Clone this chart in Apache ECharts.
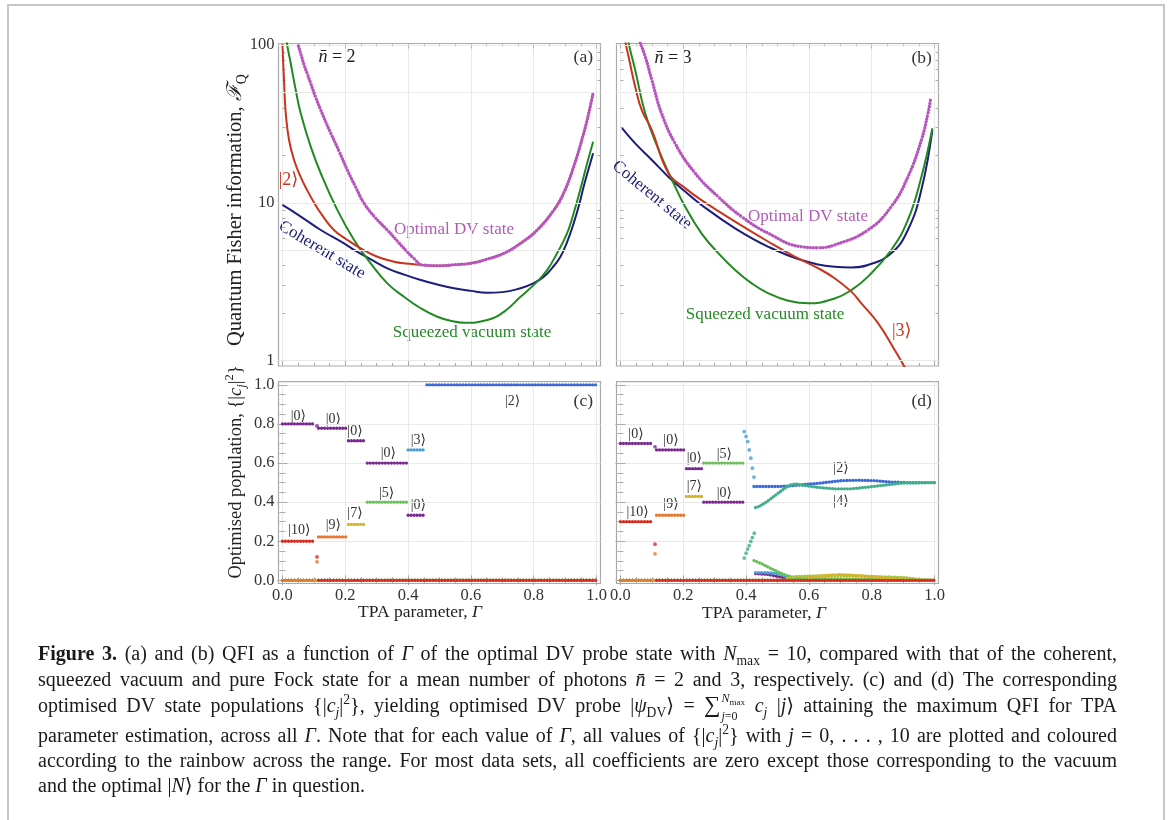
<!DOCTYPE html>
<html><head><meta charset="utf-8">
<script src="https://cdn.jsdelivr.net/npm/echarts@6/dist/echarts.min.js"></script>
<style>html,body{margin:0;padding:0;background:#fff;}#c{width:1168px;height:820px;}</style>
</head><body><div id="c"></div>
<script>
// ===================== DATA =====================
const gammaTicks = [0, 0.2, 0.4, 0.6, 0.8, 1.0];
const qfiTicks = [1, 10, 100];
const qfiMinorTicks = [2, 3, 4, 5, 6, 7, 8, 9, 20, 30, 40, 50, 60, 70, 80, 90];
const qfiGridValues = [1, 5, 10, 50, 100];
const popTicks = [0, 0.2, 0.4, 0.6, 0.8, 1.0];

// (a) nbar = 2 : [Gamma, F_Q]
const aFock2 = [[0.0,101],[0.005,60],[0.0105,37],[0.021,25],[0.037,18.7],[0.058,14.6],[0.079,12.0],[0.1,10.1],[0.122,8.6],[0.164,6.73],[0.207,5.82],[0.249,5.15],[0.302,4.56],[0.355,4.24],[0.40,4.12],[0.445,4.04],[0.5,4.0],[0.55,4.06],[0.6,4.14],[0.652,4.4],[0.705,4.79],[0.758,5.54],[0.811,6.73],[0.864,9.0],[0.895,11.5],[0.927,16.9],[0.959,27.6],[0.975,36.9],[0.989,49.7]];
const aOptimal = [[0.051,98.5],[0.06,86],[0.069,74.7],[0.08,65],[0.09,57.2],[0.105,47],[0.122,38.7],[0.138,32.5],[0.154,27.6],[0.18,21.3],[0.207,16.1],[0.233,12.6],[0.26,9.93],[0.297,8.0],[0.334,6.73],[0.365,5.75],[0.397,4.9],[0.42,4.42],[0.445,4.04],[0.5,4.0],[0.55,4.06],[0.6,4.14],[0.652,4.4],[0.705,4.79],[0.758,5.54],[0.811,6.73],[0.864,9.0],[0.895,11.5],[0.927,16.9],[0.959,27.6],[0.975,36.9],[0.989,49.7]];
const aCoherent = [[0,9.7],[0.05,8.4],[0.122,6.73],[0.196,5.54],[0.228,5.03],[0.28,4.4],[0.334,3.85],[0.39,3.5],[0.44,3.25],[0.49,3.05],[0.546,2.88],[0.6,2.77],[0.652,2.70],[0.7,2.72],[0.758,2.88],[0.8,3.1],[0.832,3.41],[0.86,3.9],[0.885,4.56],[0.907,5.7],[0.927,7.42],[0.945,9.8],[0.959,12.7],[0.975,16.5],[0.989,20.6]];
const aSqueezed = [[0.008,150],[0.0137,105],[0.0264,76.6],[0.0423,51.9],[0.0582,36.9],[0.09,22.7],[0.122,15.4],[0.175,9.0],[0.228,5.82],[0.281,4.14],[0.334,3.09],[0.387,2.54],[0.44,2.15],[0.493,1.90],[0.546,1.77],[0.577,1.74],[0.652,1.81],[0.705,2.04],[0.758,2.54],[0.811,3.17],[0.843,3.76],[0.874,4.79],[0.906,6.41],[0.927,8.59],[0.948,12.1],[0.97,17.8],[0.989,24.4]];

// (b) nbar = 3
const bFock3 = [[0.01,140],[0.015,107],[0.026,84.3],[0.047,54.4],[0.068,38.7],[0.1,28.9],[0.153,15.4],[0.206,12.4],[0.258,10.4],[0.365,7.6],[0.471,5.67],[0.555,4.56],[0.63,3.85],[0.682,3.33],[0.735,2.74],[0.767,2.31],[0.82,1.73],[0.873,1.17],[0.91,0.87],[0.93,0.7]];
const bOptimal = [[0.063,103],[0.079,84.3],[0.1,60],[0.131,36.9],[0.174,23.8],[0.238,15.4],[0.312,10.9],[0.386,8.17],[0.471,6.41],[0.576,5.27],[0.629,5.2],[0.682,5.41],[0.788,6.73],[0.862,9.46],[0.915,14.6],[0.958,25],[0.979,36.9],[0.987,44.9]];
const bCoherent = [[0.005,29.7],[0.047,23.8],[0.1,18.7],[0.153,14.6],[0.206,11.8],[0.258,9.7],[0.365,6.9],[0.471,5.27],[0.576,4.35],[0.682,3.94],[0.735,3.9],[0.788,4.04],[0.862,4.79],[0.915,6.73],[0.958,12.1],[0.993,28.9]];
const bSqueezed = [[0.015,140],[0.024,107],[0.047,69.5],[0.079,36.9],[0.122,21.6],[0.164,14.0],[0.206,9.46],[0.258,6.41],[0.312,4.79],[0.365,3.76],[0.418,3.09],[0.471,2.67],[0.534,2.40],[0.6,2.31],[0.682,2.48],[0.735,2.8],[0.788,3.41],[0.862,5.03],[0.915,7.79],[0.958,14.6],[0.993,29.7]];

// (c) populations |c_j|^2, nbar = 2 : pieces of [Gamma, value]
const cPop0 = [[[0,0.8],[0.105,0.8]],[[0.115,0.778],[0.205,0.778]],[[0.21,0.714],[0.265,0.714]],[[0.27,0.6],[0.395,0.6]],[[0.40,0.333],[0.455,0.333]],[[0.46,0],[1,0]]];
const cPop1 = [[[0,0],[1,0]]];
const cPop2 = [[[0,0],[0.455,0]],[[0.46,1],[1,1]]];
const cPop3 = [[[0,0],[0.395,0]],[[0.40,0.667],[0.455,0.667]],[[0.46,0],[1,0]]];
const cPop4 = [[[0,0],[1,0]]];
const cPop5 = [[[0,0],[0.265,0]],[[0.27,0.4],[0.395,0.4]],[[0.40,0],[1,0]]];
const cPop6 = [[[0,0],[1,0]]];
const cPop7 = [[[0,0],[0.205,0]],[[0.21,0.286],[0.265,0.286]],[[0.27,0],[1,0]]];
const cPop8 = [[[0,0],[1,0]]];
const cPop9 = [[[0,0],[0.105,0]],[[0.115,0.222],[0.205,0.222]],[[0.21,0],[1,0]]];
const cPop10 = [[[0,0.2],[0.105,0.2]],[[0.115,0],[1,0]]];
const cDots0 = [[0.11,0.79]];
const cDots9 = [[0.11,0.095]];
const cDots10 = [[0.11,0.12]];

// (d) populations, nbar = 3
const dPop0 = [[[0,0.7],[0.105,0.7]],[[0.115,0.667],[0.205,0.667]],[[0.21,0.571],[0.26,0.571]],[[0.265,0.4],[0.39,0.4]],[[0.43,0.035],[0.47,0.03],[0.5,0.02],[0.53,0.01],[0.56,0]],[[0.56,0],[1,0]]];
const dPop1 = [[[0,0],[1,0]]];
const dPop2 = [[[0,0],[0.42,0]],[[0.425,0.48],[0.45,0.48],[0.5,0.48],[0.534,0.482],[0.56,0.486],[0.598,0.492],[0.651,0.5],[0.704,0.51],[0.757,0.512],[0.81,0.51],[0.863,0.503],[0.916,0.5],[0.95,0.5],[1,0.5]]];
const dPop3 = [[[0,0],[0.39,0]],[[0.43,0.04],[0.46,0.04],[0.5,0.035],[0.53,0.02],[0.56,0.01],[0.6,0]],[[0.6,0],[1,0]]];
const dPop4 = [[[0,0],[0.39,0]],[[0.43,0.372],[0.439,0.377],[0.46,0.395],[0.481,0.42],[0.502,0.446],[0.524,0.472],[0.54,0.488],[0.556,0.493],[0.577,0.487],[0.63,0.475],[0.683,0.468],[0.736,0.468],[0.789,0.477],[0.842,0.487],[0.895,0.497],[1.0,0.5]]];
const dPop5 = [[[0,0],[0.26,0]],[[0.265,0.6],[0.39,0.6]],[[0.425,0.101],[0.45,0.085],[0.48,0.06],[0.5,0.045],[0.524,0.028],[0.55,0.015],[0.6,0.01],[0.7,0.008],[0.8,0.006],[0.9,0.003],[1,0]]];
const dPop6 = [[[0,0],[1,0]],[[0.53,0.01],[0.56,0.02],[0.6,0.022],[0.7,0.025],[0.8,0.02],[0.9,0.015],[0.95,0.005],[1,0]]];
const dPop7 = [[[0,0],[0.205,0]],[[0.21,0.429],[0.26,0.429]],[[0.265,0],[0.6,0]],[[0.6,0.015],[0.65,0.025],[0.7,0.03],[0.75,0.025],[0.8,0.02],[0.85,0.01],[0.9,0]],[[0.9,0],[1,0]]];
const dPop8 = [[[0,0],[1,0]]];
const dPop9 = [[[0,0],[0.105,0]],[[0.115,0.333],[0.205,0.333]],[[0.21,0],[1,0]]];
const dPop10 = [[[0,0.3],[0.105,0.3]],[[0.115,0],[1,0]]];
const dDots0 = [[0.11,0.683]];
const dDots3 = [[0.394,0.761],[0.40,0.736],[0.405,0.71],[0.41,0.667],[0.415,0.625],[0.42,0.574],[0.425,0.528]];
const dDots4 = [[0.394,0.114],[0.40,0.139],[0.405,0.16],[0.41,0.178],[0.415,0.199],[0.42,0.219],[0.426,0.241]];
const dDots9 = [[0.11,0.136]];
const dDots10 = [[0.11,0.185]];

// ===================== STYLE / LAYOUT =====================
const SERIF = '"Liberation Serif","DejaVu Serif",serif';
const FRAME = '#aaaaaa', GRIDC = '#e9e9e9', TXT = '#333333';
const RED = '#c9341c', NAVY = '#1d1d7e', GREEN = '#218a21', PURPLE = '#b757bd';
const JCOL = ['#7b2a90','#5a3aa6','#3d6ad6','#47a0d2','#3fae8a','#6dbf5a','#a6c23e','#d4b42c','#e59a2b','#e8772e','#d62e1f'];
const XMIN = -0.0125, XMAX = 1.0125, YMIN = 0.926, YMAX = 102.2, PMIN = -0.016, PMAX = 1.016;
const grids = [
  {left: 278.5, top: 43.5, width: 322, height: 322.5},
  {left: 616.5, top: 43.5, width: 322, height: 322.5},
  {left: 278.5, top: 381.7, width: 322, height: 201.8},
  {left: 616.5, top: 381.7, width: 322, height: 201.8}
].map(g => Object.assign({show: true, borderColor: FRAME, borderWidth: 1.2, backgroundColor: 'transparent'}, g));

const lab = (show) => ({show, fontFamily: SERIF, fontSize: 16.5, color: TXT});
function xAx(gi, pos, labels) {
  return {type: 'value', gridIndex: gi, position: pos, min: XMIN, max: XMAX,
    axisLine: {show: false},
    axisTick: {show: true, inside: true, length: 5, lineStyle: {color: FRAME}, customValues: gammaTicks},
    minorTick: {show: true, splitNumber: 4, length: 3, lineStyle: {color: FRAME}},
    splitLine: {show: pos === 'bottom', lineStyle: {color: GRIDC, width: 1}},
    axisLabel: Object.assign(lab(labels), {customValues: gammaTicks, margin: 4, interval: 0, formatter: v => v.toFixed(1)})};
}
function yLog(gi, pos, labels) {
  return {type: 'log', logBase: 10, gridIndex: gi, position: pos, min: YMIN, max: YMAX,
    axisLine: {show: false},
    axisTick: {show: true, inside: true, length: 5, lineStyle: {color: FRAME}, customValues: qfiTicks},
    splitLine: {show: false}, minorTick: {show: false},
    axisLabel: Object.assign(lab(labels), {customValues: qfiTicks, margin: 4, formatter: v => String(Math.round(v))})};
}
function yLogMinor(gi, pos) {
  return {type: 'log', logBase: 10, gridIndex: gi, position: pos, min: YMIN, max: YMAX,
    axisLine: {show: false},
    axisTick: {show: true, inside: true, length: 3, lineStyle: {color: FRAME}, customValues: qfiMinorTicks},
    splitLine: {show: false}, axisLabel: {show: false}};
}
function yPop(gi, pos, labels) {
  return {type: 'value', gridIndex: gi, position: pos, min: PMIN, max: PMAX,
    axisLine: {show: false},
    axisTick: {show: true, inside: true, length: 5, lineStyle: {color: FRAME}, customValues: popTicks},
    minorTick: {show: true, splitNumber: 4, length: 3, lineStyle: {color: FRAME}},
    splitLine: {show: pos === 'left', lineStyle: {color: GRIDC, width: 1}},
    axisLabel: Object.assign(lab(labels), {customValues: popTicks, margin: 4, formatter: v => v.toFixed(1)})};
}
const xAxes = [xAx(0,'bottom',false), xAx(0,'top',false), xAx(1,'bottom',false), xAx(1,'top',false),
               xAx(2,'bottom',true), xAx(2,'top',false), xAx(3,'bottom',true), xAx(3,'top',false)];
const yAxes = [yLog(0,'left',true), yLogMinor(0,'left'), yLog(0,'right',false), yLogMinor(0,'right'),
               yLog(1,'left',false), yLogMinor(1,'left'), yLog(1,'right',false), yLogMinor(1,'right'),
               yPop(2,'left',true), yPop(2,'right',false), yPop(3,'left',false), yPop(3,'right',false)];

const series = [];
function gridLinesSeries(xi, yi) {
  series.push({type: 'line', xAxisIndex: xi, yAxisIndex: yi, data: [], z: 0, silent: true,
    markLine: {silent: true, symbol: ['none','none'], label: {show: false}, animation: false,
      lineStyle: {color: GRIDC, type: 'solid', width: 1},
      data: qfiGridValues.map(v => ({yAxis: v}))}});
}
function curve(data, color, xi, yi, z, dotted) {
  series.push({type: 'line', xAxisIndex: xi, yAxisIndex: yi, data, showSymbol: false, smooth: 0.45,
    clip: true, z, silent: true,
    lineStyle: dotted ? {color, width: 3.4, type: [0.01, 3.1], cap: 'round'} : {color, width: 2}});
}
gridLinesSeries(0, 0); gridLinesSeries(2, 4);
curve(aCoherent, NAVY, 0, 0, 3); curve(aSqueezed, GREEN, 0, 0, 3); curve(aFock2, RED, 0, 0, 4); curve(aOptimal, PURPLE, 0, 0, 5, true);
curve(bCoherent, NAVY, 2, 4, 3); curve(bSqueezed, GREEN, 2, 4, 3); curve(bFock3, RED, 2, 4, 4); curve(bOptimal, PURPLE, 2, 4, 5, true);

function popSeries(pieces, dots, color, xi, yi) {
  const data = [];
  pieces.forEach(pc => { pc.forEach(p => data.push(p)); data.push([pc[pc.length - 1][0], null]); });
  series.push({type: 'line', xAxisIndex: xi, yAxisIndex: yi, data, showSymbol: false, connectNulls: false, z: 3, silent: true,
    lineStyle: {color, width: 3.3, type: [0.01, 3.0], cap: 'round'}});
  if (dots && dots.length) series.push({type: 'scatter', xAxisIndex: xi, yAxisIndex: yi, data: dots, symbolSize: 3.8, z: 3, silent: true, itemStyle: {color}});
}
const cPops = [cPop0,cPop1,cPop2,cPop3,cPop4,cPop5,cPop6,cPop7,cPop8,cPop9,cPop10];
const cDots = {0: cDots0, 9: cDots9, 10: cDots10};
const dPops = [dPop0,dPop1,dPop2,dPop3,dPop4,dPop5,dPop6,dPop7,dPop8,dPop9,dPop10];
const dDots = {0: dDots0, 3: dDots3, 4: dDots4, 9: dDots9, 10: dDots10};
cPops.forEach((p, j) => popSeries(p, cDots[j], JCOL[j], 4, 8));
dPops.forEach((p, j) => popSeries(p, dDots[j], JCOL[j], 6, 10));

// ===================== TEXT (mini typesetter) =====================
const mctx = document.createElement('canvas').getContext('2d');
function fstr(st) { return (st.it ? 'italic ' : '') + (st.bd ? 'bold ' : '') + st.sz + 'px ' + SERIF; }
function mw(t, st) { mctx.font = fstr(st); return mctx.measureText(t).width; }
function setLine(tokens, o) {
  const K = 0.3375;
  const pieces = [];
  tokens.forEach(tok => {
    if (tok.lim) { pieces.push({lim: tok.lim}); return; }
    tok.t.split(' ').forEach((p, i) => {
      if (i > 0) pieces.push({gap: true});
      if (p) pieces.push({t: p, st: tok.st, rise: tok.rise || 0});
    });
  });
  const wOf = arr => arr.reduce((s, k) => s + mw(k.t, k.st), 0);
  let sum = 0, ng = 0;
  pieces.forEach(p => {
    if (p.gap) { ng++; return; }
    p.w = p.lim ? Math.max(wOf(p.lim.sup), wOf(p.lim.sub)) + 1.5 : mw(p.t, p.st);
    sum += p.w;
  });
  const ms = o.size;
  let gw = mw(' ', {sz: ms});
  if (o.justify && ng) gw = (o.justify - sum) / ng;
  const total = sum + ng * gw;
  let x = o.align === 'center' ? -total / 2 : 0;
  const base = K * ms;
  const kids = [];
  const put = (t, st, rise, xx) => kids.push({type: 'text', x: xx, y: base - rise - K * st.sz, silent: true,
    style: {text: t, fill: o.fill, font: fstr(st), align: 'left', verticalAlign: 'middle'}});
  pieces.forEach(p => {
    if (p.gap) { x += gw; return; }
    if (p.lim) {
      let xx = x + 1; p.lim.sup.forEach(k => { put(k.t, k.st, (k.rise || 0) + p.lim.supRise, xx); xx += mw(k.t, k.st); });
      xx = x + 1; p.lim.sub.forEach(k => { put(k.t, k.st, (k.rise || 0) + p.lim.subRise, xx); xx += mw(k.t, k.st); });
    } else put(p.t, p.st, p.rise, x);
    x += p.w;
  });
  return {type: 'group', x: o.x, y: o.y, rotation: o.rotation || 0, silent: true, children: kids};
}
const T = (t, sz, fill, x, y, extra) => setLine([{t, st: Object.assign({sz}, extra || {})}], {x, y, size: sz, align: 'center', fill});

const S = 20;
const R = {sz: S}, B = {sz: S, bd: true}, I = {sz: S, it: true};
const SB = {sz: S * 0.68}, SBI = {sz: S * 0.68, it: true}, SP = {sz: S * 0.68};
const BIG = {sz: S * 1.15};
const LI = {sz: S * 0.6, it: true}, LS = {sz: S * 0.45}, L = {sz: S * 0.6};
const SUBR = -0.22 * S, SUPR = 0.42 * S;
const capLines = [
  [{t:'Figure 3.',st:B},{t:' (a) and (b) QFI as a function of ',st:R},{t:'Γ',st:I},{t:' of the optimal DV probe state with ',st:R},{t:'N',st:I},{t:'max',st:SB,rise:SUBR},{t:' = 10, compared with that of the coherent,',st:R}],
  [{t:'squeezed vacuum and pure Fock state for a mean number of photons ',st:R},{t:'n̄',st:I},{t:' = 2 and 3, respectively. (c) and (d) The corresponding',st:R}],
  [{t:'optimised DV state populations {|',st:R},{t:'c',st:I},{t:'j',st:SBI,rise:SUBR},{t:'|',st:R},{t:'2',st:SP,rise:SUPR},{t:'}, yielding optimised DV probe |',st:R},{t:'ψ',st:I},{t:'DV',st:SB,rise:SUBR},{t:'⟩ = ',st:R},{t:'∑',st:BIG},
   {lim:{supRise:0.55*S, subRise:-0.36*S, sup:[{t:'N',st:LI},{t:'max',st:LS,rise:-2.5}], sub:[{t:'j',st:LI},{t:'=0',st:L}]}},
   {t:' ',st:R},{t:'c',st:I},{t:'j',st:SBI,rise:SUBR},{t:' |',st:R},{t:'j',st:I},{t:'⟩ attaining the maximum QFI for TPA',st:R}],
  [{t:'parameter estimation, across all ',st:R},{t:'Γ',st:I},{t:'. Note that for each value of ',st:R},{t:'Γ',st:I},{t:', all values of {|',st:R},{t:'c',st:I},{t:'j',st:SBI,rise:SUBR},{t:'|',st:R},{t:'2',st:SP,rise:SUPR},{t:'} with ',st:R},{t:'j',st:I},{t:' = 0, . . . , 10 are plotted and coloured',st:R}],
  [{t:'according to the rainbow across the range. For most data sets, all coefficients are zero except those corresponding to the vacuum',st:R}],
  [{t:'and the optimal |',st:R},{t:'N',st:I},{t:'⟩ for the ',st:R},{t:'Γ',st:I},{t:' in question.',st:R}]
];
const capY = [655, 680.5, 707, 737, 762, 787];
const graphics = [];
graphics.push({type: 'rect', silent: true, shape: {x: 8, y: 5, width: 1156, height: 840}, style: {fill: 'none', stroke: '#c6c6c6', lineWidth: 2}});
capLines.forEach((ln, i) => graphics.push(setLine(ln, {x: 38, y: capY[i], size: S, align: 'left', fill: '#1a1a1a', justify: i < 5 ? 1079 : 0})));

// axis titles
graphics.push(setLine([{t:'Quantum Fisher information, ',st:{sz:20.5}},{t:'ℱ',st:{sz:20.5,it:true}},{t:'Q',st:{sz:14},rise:-4.5}], {x: 236, y: 210, size: 20.5, align: 'center', fill: '#222', rotation: Math.PI / 2}));
graphics.push(setLine([{t:'Optimised population, {|',st:{sz:18.5}},{t:'c',st:{sz:18.5,it:true}},{t:'j',st:{sz:12.5,it:true},rise:-4},{t:'|',st:{sz:18.5}},{t:'2',st:{sz:12.5},rise:8},{t:'}',st:{sz:18.5}}], {x: 236, y: 472, size: 18.5, align: 'center', fill: '#222', rotation: Math.PI / 2}));
graphics.push(setLine([{t:'TPA parameter, ',st:{sz:17.5}},{t:'Γ',st:{sz:17.5,it:true}}], {x: 420, y: 612, size: 17.5, align: 'center', fill: '#222'}));
graphics.push(setLine([{t:'TPA parameter, ',st:{sz:17.5}},{t:'Γ',st:{sz:17.5,it:true}}], {x: 764, y: 613, size: 17.5, align: 'center', fill: '#222'}));

// panel annotations
graphics.push(T('(a)', 17.5, TXT, 583.3, 57), T('(b)', 17.5, TXT, 921.7, 58), T('(c)', 17.5, TXT, 583.3, 401.7), T('(d)', 17.5, TXT, 921.7, 401.7));
graphics.push(setLine([{t:'n̄',st:{sz:18,it:true}},{t:' = 2',st:{sz:18}}], {x: 337, y: 57, size: 18, align: 'center', fill: '#222'}));
graphics.push(setLine([{t:'n̄',st:{sz:18,it:true}},{t:' = 3',st:{sz:18}}], {x: 673, y: 58, size: 18, align: 'center', fill: '#222'}));
graphics.push(T('|2⟩', 18, '#c2391f', 288.5, 180));
graphics.push(T('|3⟩', 18, '#c2391f', 901.7, 331.7));
graphics.push(T('Optimal DV state', 17, '#b25bb7', 454, 230), T('Optimal DV state', 17, '#b25bb7', 808, 216.7));
graphics.push(T('Squeezed vacuum state', 17, '#268a26', 472, 333), T('Squeezed vacuum state', 17, '#268a26', 765, 315));
const coh1 = T('Coherent state', 17, '#20207a', 322, 250); coh1.rotation = -0.54; graphics.push(coh1);
const coh2 = T('Coherent state', 17, '#20207a', 652, 195); coh2.rotation = -0.69; graphics.push(coh2);
const cLabels = [['|0⟩',298.3,416],['|0⟩',333.3,419.3],['|0⟩',355,431.7],['|0⟩',388.3,453.3],['|0⟩',418.3,505],['|3⟩',418.3,440],['|5⟩',386.7,493.3],['|7⟩',355,513.3],['|9⟩',333.3,525],['|10⟩',299.3,530],['|2⟩',512.7,401]];
const dLabels = [['|0⟩',636,434.3],['|0⟩',671,440],['|0⟩',694.3,458.3],['|5⟩',724.3,454],['|7⟩',694.3,486.7],['|0⟩',724.3,493.3],['|10⟩',637.7,512.7],['|9⟩',671,504],['|2⟩',841,468.3],['|4⟩',841,501]];
cLabels.concat(dLabels).forEach(l => graphics.push(T(l[0], 14, TXT, l[1], l[2])));

const chart = echarts.init(document.getElementById('c'), null, {renderer: 'canvas'});
chart.setOption({
  animation: false,
  backgroundColor: '#ffffff',
  textStyle: {fontFamily: SERIF},
  grid: grids, xAxis: xAxes, yAxis: yAxes, series,
  graphic: {elements: graphics}
});
</script></body></html>
